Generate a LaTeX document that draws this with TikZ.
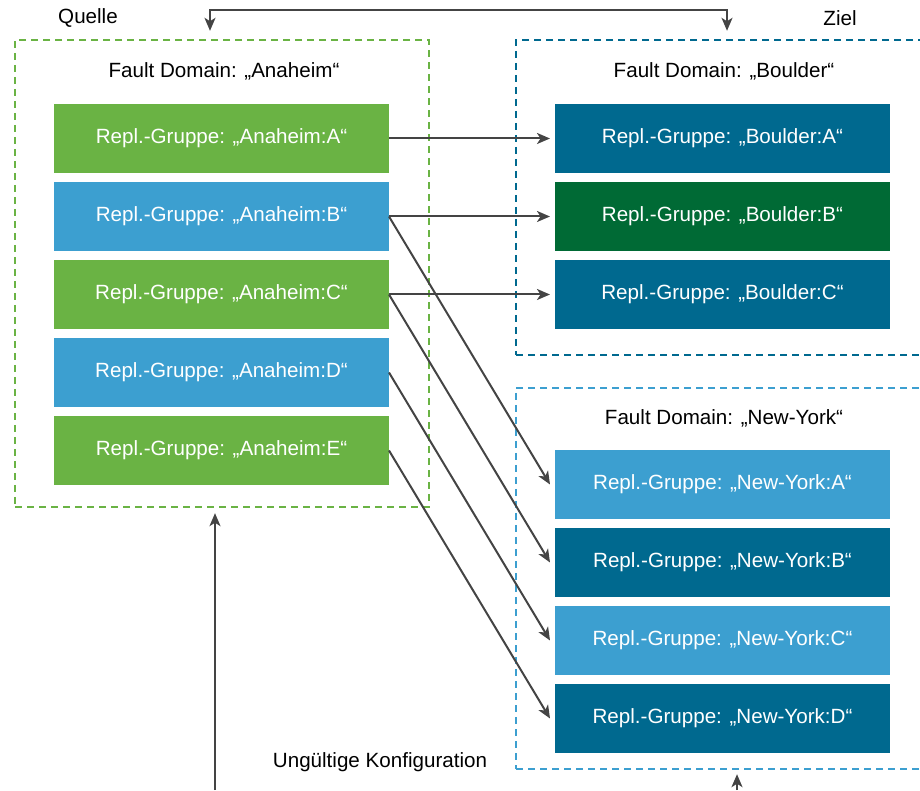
\documentclass[tikz,border=0pt]{standalone}
\usepackage{fontspec}
\setmainfont{Liberation Sans}
\usepackage{tikz}
\usetikzlibrary{arrows.meta,positioning}
\definecolor{srcgreen}{HTML}{6AB344}
\definecolor{lightblue}{HTML}{3C9FD0}
\definecolor{deepblue}{HTML}{00698F}
\definecolor{deepgreen}{HTML}{006A35}
\definecolor{arrowgray}{HTML}{444444}

\begin{document}
\begin{tikzpicture}[
    x=1pt, y=1pt,
    node distance=9pt,
    rbox/.style={rectangle, text=white, minimum width=335pt, minimum height=69pt, inner sep=0pt, outer sep=0pt, font=\fontsize{20.6}{24}\selectfont},
    fdbox/.style={rectangle, dash pattern=on 7pt off 5pt, line width=2.4pt, inner sep=0pt},
    lbl/.style={font=\fontsize{20.6}{25}\selectfont},
    conn/.style={-{Stealth[length=13pt,width=11pt,inset=3.5pt]}, line width=2pt, arrowgray}
]
\useasboundingbox (0,0) rectangle (920,790);

\node[fdbox, draw=srcgreen, minimum width=414pt, minimum height=467pt] (domA) at (222,516.5) {};
\node[fdbox, draw=deepblue, minimum width=419pt, minimum height=315pt] (domB) at (725.5,592.5) {};
\node[fdbox, draw=lightblue, minimum width=419pt, minimum height=381pt] (domN) at (725.5,211.5) {};

\node[lbl] (quelle) at (88,772) {Quelle};
\node[lbl] (ziel) at (840,772) {Ziel};
\node[lbl] (fdA) at (224,719) {Fault Domain: „Anaheim“};
\node[lbl] (fdB) at (724,719) {Fault Domain: „Boulder“};
\node[lbl] (fdN) at (724,372) {Fault Domain: „New-York“};
\node[lbl] (invalid) at (380,28) {Ungültige Konfiguration};

\node[rbox, fill=srcgreen] (a1) at (221.5,651.5) {Repl.-Gruppe: „Anaheim:A“};
\node[rbox, fill=lightblue, below=of a1] (a2) {Repl.-Gruppe: „Anaheim:B“};
\node[rbox, fill=srcgreen, below=of a2] (a3) {Repl.-Gruppe: „Anaheim:C“};
\node[rbox, fill=lightblue, below=of a3] (a4) {Repl.-Gruppe: „Anaheim:D“};
\node[rbox, fill=srcgreen, below=of a4] (a5) {Repl.-Gruppe: „Anaheim:E“};

\node[rbox, fill=deepblue, right=166pt of a1] (b1) {Repl.-Gruppe: „Boulder:A“};
\node[rbox, fill=deepgreen, below=of b1] (b2) {Repl.-Gruppe: „Boulder:B“};
\node[rbox, fill=deepblue, below=of b2] (b3) {Repl.-Gruppe: „Boulder:C“};

\node[rbox, fill=lightblue] (n1) at (722.5,305.5) {Repl.-Gruppe: „New-York:A“};
\node[rbox, fill=deepblue, below=of n1] (n2) {Repl.-Gruppe: „New-York:B“};
\node[rbox, fill=lightblue, below=of n2] (n3) {Repl.-Gruppe: „New-York:C“};
\node[rbox, fill=deepblue, below=of n3] (n4) {Repl.-Gruppe: „New-York:D“};

\coordinate (srcfoot) at (215,0);
\coordinate (dstfoot) at (737,0);

\draw[conn] (a1.east) -- ([xshift=-5pt]b1.west);
\draw[conn] (a2.east) -- ([xshift=-5pt]b2.west);
\draw[conn] (a3.east) -- ([xshift=-5pt]b3.west);
\draw[conn] (a2.east) -- ([xshift=-5pt]n1.west);
\draw[conn] (a3.east) -- ([xshift=-5pt]n2.west);
\draw[conn] (a4.east) -- ([xshift=-5pt]n3.west);
\draw[conn] (a5.east) -- ([xshift=-5pt]n4.west);

\draw[conn, {Stealth[length=13pt,width=11pt,inset=3.5pt]}-{Stealth[length=13pt,width=11pt,inset=3.5pt]}] ([xshift=-12pt,yshift=8pt]domA.north) -- ++(0,21) -| ([xshift=1.5pt,yshift=8pt]domB.north);
\draw[conn] (srcfoot) -- ([yshift=-5pt]srcfoot |- domA.south);
\draw[conn] (dstfoot) -- ([yshift=-4pt]dstfoot |- domN.south);
\end{tikzpicture}
\end{document}
